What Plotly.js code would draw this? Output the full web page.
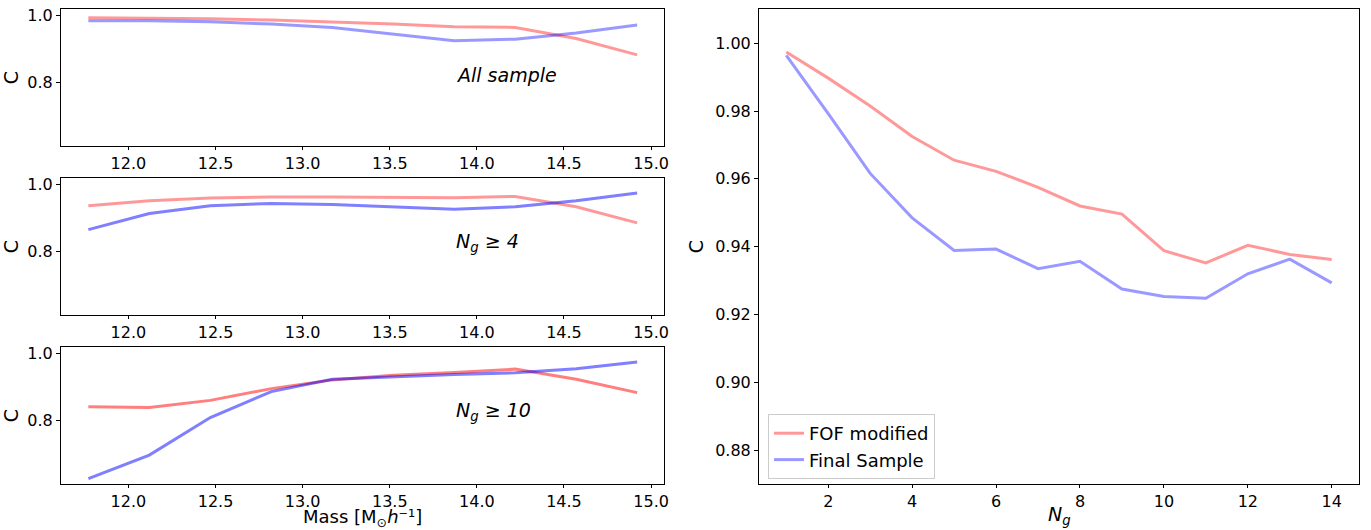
<!DOCTYPE html>
<html>
<head>
<meta charset="utf-8">
<script src="https://cdn.plot.ly/plotly-3.0.1.min.js"></script>
<style>html,body{margin:0;padding:0;background:#fff;}#chart{width:1371px;height:530px;}</style>
</head>
<body>
<div id="chart"></div>
<script>
// ---- data ----
const massBins = [11.77, 12.12, 12.47, 12.82, 13.17, 13.52, 13.87, 14.22, 14.57, 14.92];

const allFOF   = [0.994, 0.993, 0.991, 0.987, 0.982, 0.975, 0.967, 0.965, 0.932, 0.883];
const allFinal = [0.985, 0.985, 0.982, 0.975, 0.965, 0.945, 0.925, 0.930, 0.948, 0.972];

const ng4FOF   = [0.937, 0.952, 0.960, 0.963, 0.963, 0.962, 0.961, 0.965, 0.934, 0.886];
const ng4Final = [0.866, 0.914, 0.937, 0.944, 0.941, 0.935, 0.927, 0.934, 0.952, 0.975];

const ng10FOF   = [0.842, 0.840, 0.861, 0.896, 0.922, 0.936, 0.944, 0.954, 0.924, 0.884];
const ng10Final = [0.628, 0.698, 0.810, 0.887, 0.924, 0.932, 0.938, 0.943, 0.955, 0.975];

const ngValues = [1, 2, 3, 4, 5, 6, 7, 8, 9, 10, 11, 12, 13, 14];
const cFOF   = [0.9974, 0.9897, 0.9815, 0.9725, 0.9655, 0.9622, 0.9575, 0.9520, 0.9496, 0.9388, 0.9352, 0.9404, 0.9377, 0.9362];
const cFinal = [0.9964, 0.9792, 0.9616, 0.9485, 0.9389, 0.9393, 0.9335, 0.9357, 0.9275, 0.9253, 0.9248, 0.9320, 0.9363, 0.9293];

const seriesNames = ['FOF modified', 'Final Sample'];
const panelLabels = ['<i>All sample</i>', '<i>N<sub>g</sub> ≥ 4</i>', '<i>N<sub>g</sub> ≥ 10</i>'];
const massTitle = 'Mass [M<sub>⊙</sub><i>h</i>⁻¹]';
const ngTitle = '<i>N<sub>g</sub></i>';
const massTicks = [12.0, 12.5, 13.0, 13.5, 14.0, 14.5, 15.0];
const massTickText = ['12.0', '12.5', '13.0', '13.5', '14.0', '14.5', '15.0'];
const cTicksLeft = [0.8, 1.0];
const cTickTextLeft = ['0.8', '1.0'];
const cTicksRight = [0.88, 0.90, 0.92, 0.94, 0.96, 0.98, 1.00];
const cTickTextRight = ['0.88', '0.90', '0.92', '0.94', '0.96', '0.98', '1.00'];
const ngTicks = [2, 4, 6, 8, 10, 12, 14];
const ngTickText = ['2', '4', '6', '8', '10', '12', '14'];

// ---- styling ----
const RED4 = 'rgba(255,0,0,0.4)', BLUE4 = 'rgba(0,0,255,0.4)';
const RED5 = 'rgba(255,0,0,0.5)', BLUE5 = 'rgba(0,0,255,0.5)';
const FONT = 'DejaVu Sans, sans-serif';
const LW = 3;
const TICK = 16, LABEL = 19;

function line(x, y, color, xa, ya, name, show) {
  return {x: x, y: y, type: 'scatter', mode: 'lines', xaxis: xa, yaxis: ya,
          name: name, showlegend: !!show, line: {color: color, width: LW},
          hoverinfo: 'skip'};
}

const traces = [
  line(massBins, allFOF, RED4, 'x', 'y'),
  line(massBins, allFinal, BLUE4, 'x', 'y'),
  line(massBins, ng4FOF, RED4, 'x2', 'y2'),
  line(massBins, ng4Final, BLUE5, 'x2', 'y2'),
  line(massBins, ng10FOF, RED5, 'x3', 'y3'),
  line(massBins, ng10Final, BLUE5, 'x3', 'y3'),
  line(ngValues, cFOF, RED4, 'x4', 'y4', seriesNames[0], true),
  line(ngValues, cFinal, BLUE4, 'x4', 'y4', seriesNames[1], true)
];

const W = 1371, H = 530;
const lx0 = 61 / W, lx1 = 664 / W;
const rx0 = 759 / W, rx1 = 1359 / W;
function yd(top, bottom) { return [1 - bottom / H, 1 - top / H]; }

const axBase = {
  showline: true, linecolor: '#000', linewidth: 1, mirror: true,
  ticks: 'outside', ticklen: 4, tickwidth: 1, tickcolor: '#000',
  showgrid: false, zeroline: false,
  tickfont: {family: FONT, size: TICK, color: '#000'}
};
function mx(anchor, dom) {
  return Object.assign({}, axBase, {
    domain: dom, anchor: anchor, range: [11.613, 15.074], ticklen: 3,
    tickmode: 'array', tickvals: massTicks, ticktext: massTickText
  });
}
function cy(anchor, dom) {
  return Object.assign({}, axBase, {
    domain: dom, anchor: anchor, range: [0.612, 1.019],
    tickmode: 'array', tickvals: cTicksLeft, ticktext: cTickTextLeft,
    title: {text: 'C', font: {family: FONT, size: LABEL, color: '#000'}, standoff: 6}
  });
}

const annotations = panelLabels.map((t, i) => ({
  text: t, xref: 'x' + (i === 0 ? '' : i + 1), yref: 'y' + (i === 0 ? '' : i + 1),
  x: 13.87, y: 0.8, xanchor: 'left', yanchor: 'bottom', yshift: -5,
  showarrow: false, font: {family: FONT, size: 19, color: '#000'}
}));
annotations.push({
  text: massTitle, xref: 'paper', yref: 'paper',
  x: (lx0 + lx1) / 2, y: 1 - 518 / H, xanchor: 'center', yanchor: 'middle',
  showarrow: false, font: {family: FONT, size: 18, color: '#000'}
});
annotations.push({
  text: ngTitle, xref: 'paper', yref: 'paper',
  x: (rx0 + rx1) / 2, y: 0, xanchor: 'center', yanchor: 'bottom', yshift: 0,
  showarrow: false, font: {family: FONT, size: 19, color: '#000'}
});

const layout = {
  width: W, height: H,
  margin: {l: 0, r: 0, t: 0, b: 0},
  paper_bgcolor: '#fff', plot_bgcolor: '#fff',
  font: {family: FONT, color: '#000'},
  showlegend: true,
  xaxis: mx('y', [lx0, lx1]),
  yaxis: cy('x', yd(9.3, 145.7)),
  xaxis2: mx('y2', [lx0, lx1]),
  yaxis2: cy('x2', yd(178.3, 314.8)),
  xaxis3: mx('y3', [lx0, lx1]),
  yaxis3: cy('x3', yd(347.3, 484)),
  xaxis4: Object.assign({}, axBase, {
    domain: [rx0, rx1], anchor: 'y4', range: [0.35, 14.65], ticklen: 3,
    tickmode: 'array', tickvals: ngTicks, ticktext: ngTickText
  }),
  yaxis4: Object.assign({}, axBase, {
    domain: yd(9.3, 484), anchor: 'x4', range: [0.870, 1.010],
    tickmode: 'array', tickvals: cTicksRight, ticktext: cTickTextRight,
    title: {text: 'C', font: {family: FONT, size: LABEL, color: '#000'}, standoff: 6}
  }),
  legend: {
    x: 768 / W, y: 1 - 414 / H, xanchor: 'left', yanchor: 'top',
    bgcolor: 'rgba(255,255,255,0.8)', bordercolor: '#cccccc', borderwidth: 1,
    font: {family: FONT, size: 18, color: '#000'},
    tracegroupgap: 0
  },
  annotations: annotations
};

Plotly.newPlot('chart', traces, layout, {displayModeBar: false, staticPlot: true});
</script>
</body>
</html>
